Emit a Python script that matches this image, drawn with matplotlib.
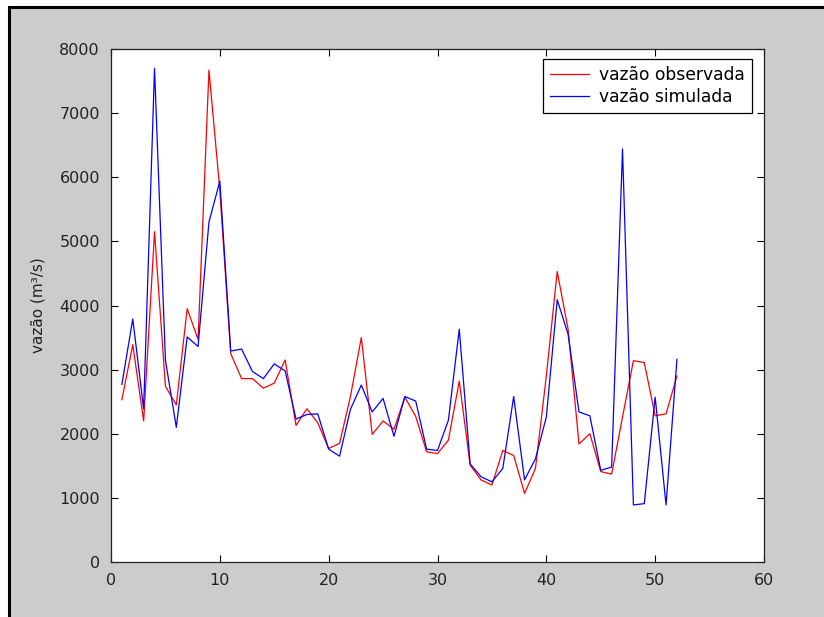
import matplotlib
matplotlib.use('Agg')
import matplotlib.pyplot as plt
from matplotlib.patches import Rectangle
from matplotlib.lines import Line2D

# semanas 1..52
semana = list(range(1, 53))

vazao_observada = [2530, 3390, 2200, 5150, 2740, 2450, 3950, 3470, 7670, 5800,
                   3250, 2860, 2860, 2710, 2790, 3150, 2130, 2390, 2170, 1770,
                   1850, 2580, 3500, 1990, 2200, 2070, 2570, 2270, 1720, 1690,
                   1900, 2820, 1510, 1280, 1200, 1740, 1660, 1070, 1460, 2900,
                   4530, 3630, 1840, 2000, 1410, 1370, 2260, 3140, 3110, 2280,
                   2310, 2900]

vazao_simulada = [2770, 3790, 2390, 7700, 3150, 2100, 3510, 3360, 5300, 5940,
                  3290, 3320, 2970, 2860, 3090, 2980, 2230, 2300, 2310, 1760,
                  1650, 2380, 2760, 2340, 2550, 1960, 2580, 2510, 1760, 1740,
                  2210, 3630, 1530, 1330, 1250, 1460, 2580, 1280, 1610, 2260,
                  4090, 3550, 2340, 2280, 1430, 1480, 6440, 890, 910, 2570,
                  890, 3160]

x_ticks = [0, 10, 20, 30, 40, 50, 60]
y_ticks = [0, 1000, 2000, 3000, 4000, 5000, 6000, 7000, 8000]

if __name__ == '__main__':
    W, H = 824, 617
    fig = plt.figure(figsize=(W / 100, H / 100), dpi=100)
    fig.patch.set_facecolor('white')

    # gray MATLAB window background with black frame on top/left
    fig.patches.append(Rectangle((9 / W, 0), 1, (H - 7) / H, transform=fig.transFigure,
                                 facecolor='#cccccc', edgecolor='none', zorder=-10))
    fig.lines.append(Line2D([9 / W, 9 / W], [0, (H - 7) / H], transform=fig.transFigure,
                            color='black', lw=2.2))
    fig.lines.append(Line2D([9 / W, 1], [(H - 7) / H, (H - 7) / H], transform=fig.transFigure,
                            color='black', lw=2.2))

    ax = fig.add_axes([111 / W, (H - 562) / H, (764 - 111) / W, (562 - 49) / H])
    ax.set_facecolor('white')

    ax.plot(semana, vazao_observada, color='#ff0000', lw=0.9, label='vazão observada')
    ax.plot(semana, vazao_simulada, color='#0000ff', lw=0.9, label='vazão simulada')

    ax.set_xlim(0, 60)
    ax.set_ylim(0, 8000)
    ax.set_xticks(x_ticks)
    ax.set_yticks(y_ticks)
    ax.tick_params(direction='in', length=5, width=0.8, top=True, right=True,
                   labelsize=11.5, labelcolor='#222222', pad=8)
    for s in ax.spines.values():
        s.set_linewidth(0.9)
        s.set_color('#222222')

    ax.set_ylabel('vazão (m³/s)', fontsize=11, labelpad=10, color='#222222')

    leg = ax.legend(loc='upper right', bbox_to_anchor=(752 / W, (H - 59) / H),
                    bbox_transform=fig.transFigure, fontsize=12.3, fancybox=False,
                    framealpha=1, edgecolor='black', handlelength=2.3,
                    borderpad=0.4, borderaxespad=0, labelspacing=0.25,
                    handletextpad=0.6)
    leg.get_frame().set_linewidth(0.9)

    plt.savefig('out.png', dpi=100)
    plt.close()
